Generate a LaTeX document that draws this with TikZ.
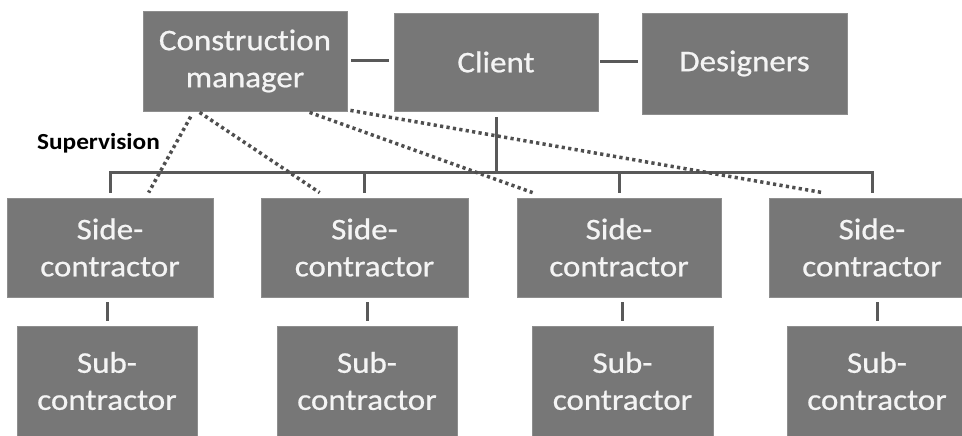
\documentclass[tikz,border=0pt]{standalone}
\usepackage{fontspec}
\setmainfont[FakeStretch=1.1, FakeBold=0.7, Ligatures=NoCommon]{Carlito}
\newfontfamily\labelfont[FakeStretch=1.1, Ligatures=NoCommon]{Carlito}
\usetikzlibrary{calc}
\definecolor{boxgray}{HTML}{777777}
\definecolor{boxedge}{HTML}{8E8E8E}
\definecolor{linkgray}{HTML}{595959}
\definecolor{dotgray}{HTML}{4F4F4F}
\definecolor{labelwhite}{HTML}{F4F4F4}
\begin{document}
\begin{tikzpicture}[x=1pt,y=-1pt,
  box/.style={rectangle, fill=boxgray, draw=boxedge, line width=0.8pt,
    text=labelwhite, align=center, inner sep=0pt,
    font=\fontsize{30}{37}\selectfont},
  link/.style={draw=linkgray, line width=3pt},
  supervise/.style={draw=dotgray, line width=3.5pt, dash pattern=on 3.2pt off 3.3pt}]

\useasboundingbox (0,0) rectangle (962,436);
\clip (0,0) rectangle (962,436);

% top row
\node[box, minimum width=204pt, minimum height=100pt] (cm) at (245,61) {Construction\\manager};
\node[box, minimum width=204pt, minimum height=98pt] (client) at (496,62) {Client};
\node[box, minimum width=205pt, minimum height=101pt] (des) at (744.5,63.5) {Designers};

% side-contractors
\node[box, minimum width=206pt, minimum height=99pt] (s1) at (110,247.5) {Side-\\contractor};
\node[box, minimum width=207pt, minimum height=99pt] (s2) at (364.5,247.5) {Side-\\contractor};
\node[box, minimum width=204pt, minimum height=99pt] (s3) at (619,247.5) {Side-\\contractor};
\node[box, minimum width=206pt, minimum height=99pt] (s4) at (872,247.5) {Side-\\contractor};

% sub-contractors
\node[box, minimum width=180pt, minimum height=110pt] (u1) at (107,381) {Sub-\\contractor};
\node[box, minimum width=180pt, minimum height=110pt] (u2) at (367,381) {Sub-\\contractor};
\node[box, minimum width=181pt, minimum height=110pt] (u3) at (622.5,381) {Sub-\\contractor};
\node[box, minimum width=180pt, minimum height=110pt] (u4) at (877,381) {Sub-\\contractor};

% label
\node[font=\labelfont\fontsize{23}{28}\selectfont\bfseries, text=black, inner sep=0pt] (sup) at (98.5,143) {Supervision};

% links in the top row
\draw[link, shorten <=4pt, shorten >=5pt] (cm.east) -- (cm.east -| client.west);
\draw[link, shorten <=2pt, shorten >=4pt] (client.east) -- (client.east -| des.west);

% distribution bus
\coordinate (bus) at (0,172);
\draw[link] ([yshift=-6pt]client.south) -- (client.south |- bus);
\draw[link, line cap=rect] (s1.north |- bus) -- (s4.north |- bus);
\foreach \s in {s1,s2,s3,s4}
  \draw[link] (\s.north |- bus) -- ([yshift=5pt]\s.north);

% side- to sub-contractor links
\draw[link] ([yshift=-5pt]s1.south -| u1.north) -- ([yshift=5pt]u1.north);
\draw[link] ([yshift=-5pt]s2.south -| u2.north) -- ([yshift=5pt]u2.north);
\draw[link] ([yshift=-5pt]s3.south -| u3.north) -- ([yshift=5pt]u3.north);
\draw[link] ([yshift=-5pt]s4.south -| u4.north) -- ([yshift=5pt]u4.north);

% supervision lines
\draw[supervise, shorten <=6pt] ([xshift=51pt]cm.south west) -- ([xshift=142pt,yshift=5pt]s1.north west);
\draw[supervise] ([xshift=57pt,yshift=-1pt]cm.south west) -- ([xshift=59pt,yshift=5pt]s2.north west);
\draw[supervise] ([xshift=167pt,yshift=-1pt]cm.south west) -- ([xshift=16pt,yshift=5pt]s3.north west);
\draw[supervise] ([xshift=3pt,yshift=1pt]cm.south east) -- ([xshift=54pt,yshift=5pt]s4.north west);
\end{tikzpicture}
\end{document}
